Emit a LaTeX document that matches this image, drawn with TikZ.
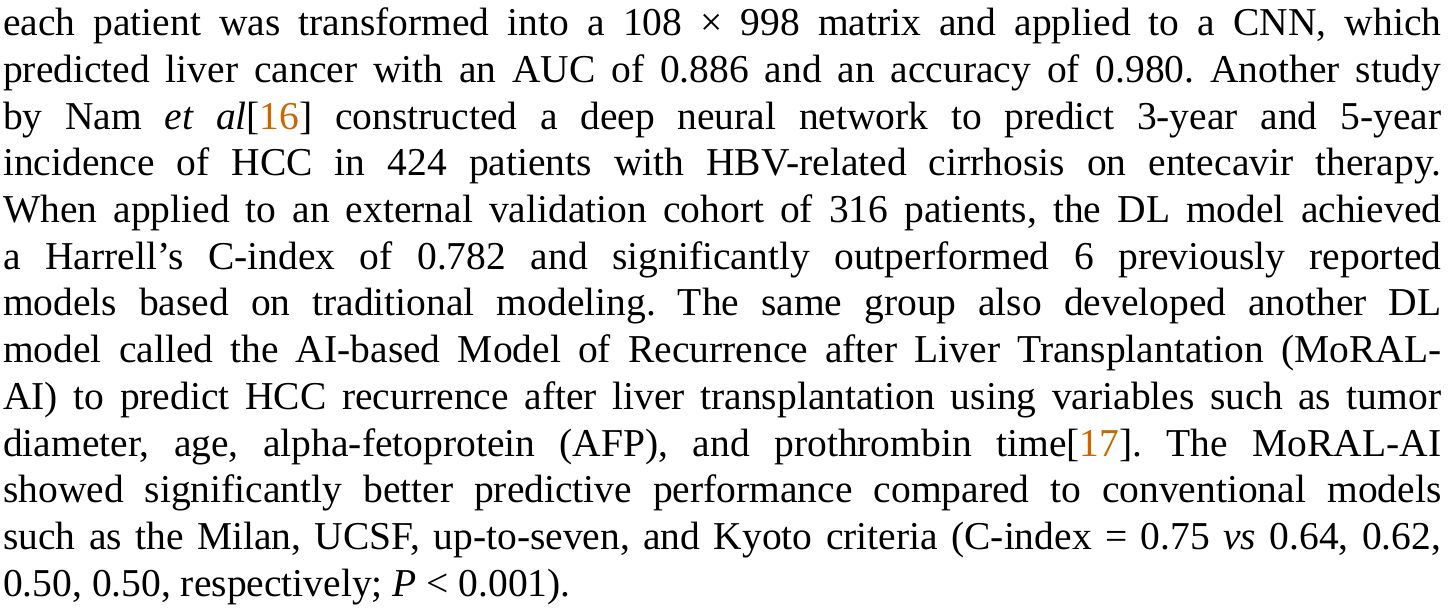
\documentclass[tikz,border=0pt]{standalone}
\usepackage{fontspec}
\setmainfont{Liberation Serif}
\definecolor{citeorange}{RGB}{204,102,0}
\newcommand{\refnum}[1]{[{\color{citeorange}#1}]}
\newcommand{\fullline}[1]{\hbox to 1438pt{#1}}
\newcommand{\lastline}[1]{\hbox to 1438pt{#1\hfil}}
\frenchspacing

\begin{document}
\begin{tikzpicture}[x=1pt,y=1pt]
    \tikzset{
      TextLine/.style = { anchor = base west, inner sep = 0pt,
                          font = \fontsize{39.5}{46.67}\selectfont } }
    \useasboundingbox (0,0) rectangle (1456,611);

    \node[TextLine] (l1)  at (3,575)    {\fullline{each patient was transformed into a 108 × 998 matrix and applied to a CNN, which}};
    \node[TextLine] (l2)  at (3,528.33) {\fullline{predicted liver cancer with an AUC of 0.886 and an accuracy of 0.980. Another study}};
    \node[TextLine] (l3)  at (3,481.67) {\fullline{by Nam \textit{et al}\refnum{16} constructed a deep neural network to predict 3-year and 5-year}};
    \node[TextLine] (l4)  at (3,435)    {\fullline{incidence of HCC in 424 patients with HBV-related cirrhosis on entecavir therapy.}};
    \node[TextLine] (l5)  at (3,388.33) {\fullline{When applied to an external validation cohort of 316 patients, the DL model achieved}};
    \node[TextLine] (l6)  at (3,341.67) {\fullline{a Harrell’s C-index of 0.782 and significantly outperformed 6 previously reported}};
    \node[TextLine] (l7)  at (3,295)    {\fullline{models based on traditional modeling. The same group also developed another DL}};
    \node[TextLine] (l8)  at (3,248.33) {\fullline{model called the AI-based Model of Recurrence after Liver Transplantation (MoRAL-}};
    \node[TextLine] (l9)  at (3,201.67) {\fullline{AI) to predict HCC recurrence after liver transplantation using variables such as tumor}};
    \node[TextLine] (l10) at (3,155)    {\fullline{diameter, age, alpha-fetoprotein (AFP), and prothrombin time\refnum{17}. The MoRAL-AI}};
    \node[TextLine] (l11) at (3,108.33) {\fullline{showed significantly better predictive performance compared to conventional models}};
    \node[TextLine] (l12) at (3,61.67)  {\fullline{such as the Milan, UCSF, up-to-seven, and Kyoto criteria (C-index = 0.75 \textit{vs} 0.64, 0.62,}};
    \node[TextLine] (l13) at (3,15)     {\lastline{0.50, 0.50, respectively; \textit{P} < 0.001).}};
%
\end{tikzpicture}
\end{document}
